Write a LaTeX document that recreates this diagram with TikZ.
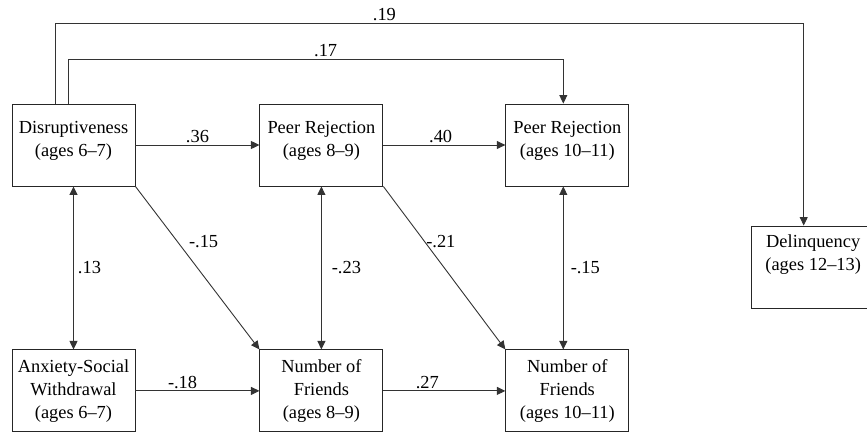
\documentclass[tikz,border=0pt]{standalone}
\usepackage{fontspec}
\setmainfont{Liberation Serif}
\usetikzlibrary{arrows.meta, positioning}

\begin{document}
\begin{tikzpicture}[x=1pt, y=1pt, node distance=163pt and 124pt,
    >={Triangle[length=8.5pt,width=8pt]}, font=\fontsize{18.4}{23}\selectfont,
    box/.style={draw=black!85, line width=0.9pt, minimum width=123pt,
      minimum height=82pt, align=center, inner sep=0pt},
    conn/.style={draw=black!80, line width=0.9pt},
    lbl/.style={inner sep=2pt}]
        \useasboundingbox (0,0) rectangle (867,-433);
        \node[box] (dis) at (73.5,-145) {Disruptiveness\\(ages 6--7)\\[-10pt]\mbox{}};
        \node[box] (pr1) [right=of dis] {Peer Rejection\\(ages 8--9)\\[-10pt]\mbox{}};
        \node[box] (pr2) [right=122pt of pr1] {Peer Rejection\\(ages 10--11)\\[-10pt]\mbox{}};
        \node[box] (anx) [below=of dis] {Anxiety-Social\\Withdrawal\\(ages 6--7)};
        \node[box] (nf1) [below=of pr1] {Number of\\Friends\\(ages 8--9)};
        \node[box] (nf2) [below=of pr2] {Number of\\Friends\\(ages 10--11)};
        \node[box] (del) [below right=122pt and 122pt of pr2.north east] {Delinquency\\(ages 12--13)\\[5pt]\mbox{}};
        \draw[conn,->] (dis) -- node[lbl,above] {.36} (pr1);
        \draw[conn,->] (pr1) -- node[lbl,above,pos=.47] {.40} (pr2);
        \draw[conn,->] (anx) -- node[lbl,above,pos=.38] {-.18} (nf1);
        \draw[conn,->] (nf1) -- node[lbl,above,pos=.36] {.27} (nf2);
        \draw[conn,<->] (dis) -- node[lbl,right=2pt] {.13} (anx);
        \draw[conn,<->] (pr1) -- node[lbl,right=8pt] {-.23} (nf1);
        \draw[conn,<->] ([xshift=-4pt]pr2.south) -- node[lbl,right=5pt] {-.15} ([xshift=-4pt]nf2.north);
        \draw[conn,->] (dis.south east) -- node[lbl,pos=.34,right=9pt] {-.15} (nf1.north west);
        \draw[conn,->] (pr1.south east) -- node[lbl,pos=.34,anchor=west,inner sep=1pt] {-.21} (nf2.north west);
        \draw[conn,->] ([xshift=-18.5pt]dis.north) -- ++(0,80.5) -| node[lbl,above,pos=.22] {.19} ([xshift=-9.5pt]del.north);
        \draw[conn,->] ([xshift=-5.2pt]dis.north) -- ++(0,44.3) -| node[lbl,above,pos=.26] {.17} ([xshift=-4pt]pr2.north);
      \end{tikzpicture}
\end{document}
